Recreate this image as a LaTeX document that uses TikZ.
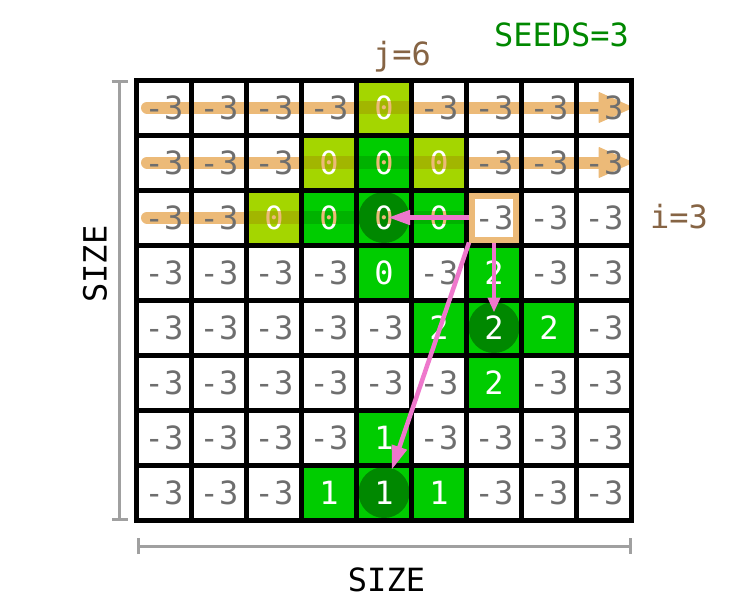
\documentclass[tikz,border=0pt]{standalone}
\usepackage{fontspec}
\newfontfamily\dvm{DejaVu Sans Mono}
\usetikzlibrary{arrows.meta}
\definecolor{LG}{HTML}{A4D600}
\definecolor{GR}{HTML}{00CC00}
\definecolor{DG}{HTML}{008800}
\definecolor{LGB}{HTML}{A2B600}
\definecolor{GRB}{HTML}{00B200}
\definecolor{OR}{HTML}{ECBA78}
\definecolor{TX}{HTML}{6E6E6E}
\definecolor{BR}{HTML}{866444}
\definecolor{PK}{HTML}{EE77CC}
\definecolor{DM}{HTML}{A0A0A0}
\begin{document}
\begin{tikzpicture}[x=1pt,y=-1pt,
  cellnode/.style={minimum size=55pt, inner sep=0pt, outer sep=0pt},
  lg/.style={fill=LG}, gr/.style={fill=GR},
  seed/.style={circle, fill=DG, minimum size=51pt, inner sep=0pt},
  wtxt/.style={text=white, font=\dvm\fontsize{32}{36}\selectfont, inner sep=0pt},
  gtxt/.style={text=TX, font=\dvm\fontsize{32}{36}\selectfont, inner sep=0pt},
  band/.style={draw=OR, line width=12pt, line cap=round},
  bandtip/.style={-{Triangle[length=35pt,width=31pt,line width=1pt,round]}},
  gridline/.style={line width=5pt, draw=black},
  obox/.style={draw=OR, line width=6pt, fill=white, minimum size=44pt, inner sep=0pt},
  parrow/.style={draw=PK, line width=4.5pt},
  dimline/.style={draw=DM, line width=3pt, {Bar[width=16pt]}-{Bar[width=16pt]}},
  lbl/.style={font=\dvm\fontsize{32}{35}\selectfont, inner sep=0pt, anchor=base}]
\useasboundingbox (0,0) rectangle (730,610);
\fill[white] (0,0) rectangle (730,610);
% cells
\foreach \r in {1,...,8}{
  \foreach \c in {1,...,9}{
    \node[cellnode] (c\r-\c) at ({136.5+(\c-0.5)*55},{80+(\r-0.5)*55}) {};
  }
}
% coloured cells
\foreach \p/\f in {1-5/lg,2-4/lg,2-5/gr,2-6/lg,3-3/lg,3-4/gr,3-5/gr,3-6/gr,4-5/gr,4-7/gr,5-6/gr,5-7/gr,5-8/gr,6-7/gr,7-5/gr,8-4/gr,8-5/gr,8-6/gr}{
  \fill[\f] (c\p.north west) rectangle (c\p.south east);
  \expandafter\gdef\csname ISCOL\p\endcsname{}
}
% seeds
\node[seed] (s3-5) at (c3-5) {};
\node[seed] (s5-7) at (c5-7) {};
\node[seed] (s8-5) at (c8-5) {};
% white texts
\foreach \p/\v in {1-5/0,2-4/0,2-5/0,2-6/0,3-3/0,3-4/0,3-5/0,3-6/0,4-5/0,4-7/2,5-6/2,5-7/2,5-8/2,6-7/2,7-5/1,8-4/1,8-5/1,8-6/1}{
  \node[wtxt] at (c\p) {\v};
}
% scan bands
\draw[band,bandtip,shorten <=10.5pt,shorten >=-1.5pt] (c1-1.west) -- (c1-9.east);
\draw[band,bandtip,shorten <=10.5pt,shorten >=-1.5pt] (c2-1.west) -- (c2-9.east);
\draw[band,shorten <=10.5pt] (c3-1.west) -- (c3-7.west);
% band seen through coloured cells (darkened), white digits turn orange
\foreach \p/\f in {1-5/LGB,2-4/LGB,2-5/GRB,2-6/LGB,3-3/LGB,3-4/GRB,3-6/GRB}{
  \begin{scope}
    \clip ([yshift=6pt]c\p.west) rectangle ([yshift=-6pt]c\p.east);
    \fill[\f] (c\p.north west) rectangle (c\p.south east);
    \node[wtxt,text=OR] at (c\p) {0};
  \end{scope}
}
\begin{scope}
  \clip ([yshift=6pt]c3-5.west) rectangle ([yshift=-6pt]c3-5.east);
  \fill[GRB] (c3-5.north west) rectangle (c3-5.south east);
  \fill[DG] (s3-5.center) circle[radius=25.5pt];
  \node[wtxt,text=OR] at (c3-5) {0};
\end{scope}
% grid
\foreach \c in {1,...,8}{\draw[gridline] (c1-\c.north east) -- (c8-\c.south east);}
\foreach \r in {1,...,7}{\draw[gridline] (c\r-1.south west) -- (c\r-9.south east);}
\draw[gridline] (c1-1.north west) rectangle (c8-9.south east);
% current cell box
\node[obox] (box) at (c3-7) {};
% grey texts
\foreach \r in {1,...,8}{
  \foreach \c in {1,...,9}{
    \ifcsname ISCOL\r-\c\endcsname\else\node[gtxt] at (c\r-\c) {-3};\fi
  }
}
% pink arrows
\draw[parrow,-{Triangle[length=22pt,width=14pt]},shorten >=4pt] (box.west) -- (s3-5.center);
\draw[parrow,-{Triangle[length=15pt,width=12pt]},shorten >=15pt] (box.south) -- (s5-7.center);
\draw[parrow,-{Triangle[length=24pt,width=15pt]},shorten >=24pt] (box.south west) -- (s8-5.center);
% dimensions
\coordinate (dv1) at (119.5,80);
\coordinate (dv2) at (119.5,521);
\coordinate (dh1) at (137,546);
\coordinate (dh2) at (632,546);
\draw[dimline] (dv1) -- (dv2);
\draw[dimline] (dh1) -- (dh2);
% labels
\node[lbl,text=black] (sizeb) at (386.5,591) {SIZE};
\node[lbl,text=black,rotate=90] (sizel) at (106.5,264) {SIZE};
\node[lbl,text=BR] (jlab) at (402,65) {j=6};
\node[lbl,text=BR] (ilab) at (679,228) {i=3};
\node[lbl,text=DG] (seeds) at (561.5,47) {SEEDS=3};
\end{tikzpicture}
\end{document}
